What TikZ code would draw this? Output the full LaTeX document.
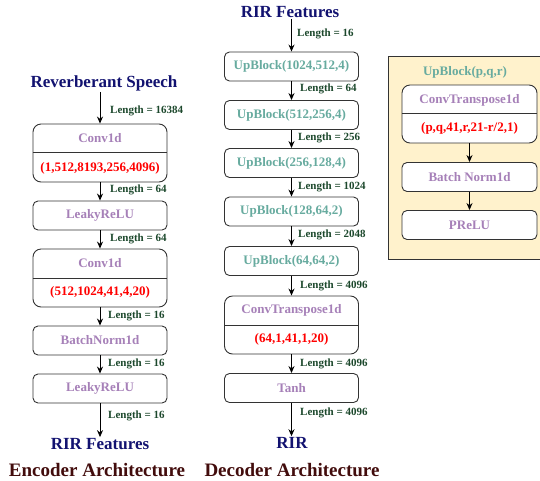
\documentclass[tikz,border=0pt]{standalone}
\usepackage{fontspec}
\setmainfont{Liberation Serif}
\usetikzlibrary{arrows.meta}
\definecolor{navy}{RGB}{18,18,112}
\definecolor{maroon}{RGB}{66,12,12}
\definecolor{lav}{RGB}{166,128,184}
\definecolor{teal}{RGB}{103,171,159}
\definecolor{lgreen}{RGB}{28,72,44}
\definecolor{panel}{RGB}{255,242,204}
\begin{document}
\begin{tikzpicture}[x=1pt,y=-1pt,
  blk/.style={draw=black!80,line width=0.9pt,rounded corners=5pt,minimum width=134pt,minimum height=29pt,inner sep=0pt,fill=white},
  blkd/.style={blk,minimum height=58pt,rounded corners=8pt},
  lbl/.style={font=\bfseries\fontsize{13}{14}\selectfont,text=lav,inner sep=0pt},
  tlb/.style={font=\bfseries\fontsize{13}{14}\selectfont,text=teal,inner sep=0pt},
  par/.style={font=\bfseries\fontsize{13}{14}\selectfont,text=red,inner sep=0pt},
  len/.style={font=\bfseries\fontsize{11}{12}\selectfont,text=lgreen,inner sep=0pt,anchor=west},
  ttl/.style={font=\bfseries\fontsize{17}{18}\selectfont,text=navy,inner sep=1pt},
  arch/.style={font=\bfseries\fontsize{19}{20}\selectfont,text=maroon,inner sep=0pt},
  arr/.style={-{Stealth[length=7pt,width=6pt]},line width=0.9pt}]
\useasboundingbox (0,0) rectangle (540,480);
% ---------- Encoder ----------
\node[ttl] (rs) at (104,83) {Reverberant Speech};
\node[blkd] (e1) at (100,153) {};
\draw[line width=0.9pt,black!80] (e1.west |- 0,152) -- (e1.east |- 0,152);
\node[lbl] (e1a) at (100,138) {Conv1d};
\node[par] (e1b) at (100,168) {(1,512,8193,256,4096)};
\node[blk] (e2) at (100,215.5) {};
\node[lbl] (e2a) at (100,215.5) {LeakyReLU};
\node[blkd] (e3) at (100,278) {};
\draw[line width=0.9pt,black!80] (e3.west |- 0,278) -- (e3.east |- 0,278);
\node[lbl] (e3a) at (100,263) {Conv1d};
\node[par] (e3b) at (100,292.5) {(512,1024,41,4,20)};
\node[blk] (e4) at (100,340.5) {};
\node[lbl] (e4a) at (100,340.5) {BatchNorm1d};
\node[blk] (e5) at (100,388.5) {};
\node[lbl] (e5a) at (100,388.5) {LeakyReLU};
\node[ttl] (rf1) at (100,444) {RIR Features};
\node[arch] (ea) at (97,470) {Encoder Architecture};
\draw[arr] (rs.south -| e1.north) -- (e1.north);
\draw[arr] (e1) -- (e2);
\draw[arr] (e2) -- (e3);
\draw[arr] (e3) -- (e4);
\draw[arr] (e4) -- (e5);
\draw[arr] (e5) -- (rf1.north -| e5.south);
\node[len] (l1) at (110,111) {Length = 16384};
\node[len] (l2) at (110,190) {Length = 64};
\node[len] (l3) at (110,239) {Length = 64};
\node[len] (l4) at (108,316) {Length = 16};
\node[len] (l5) at (108,364) {Length = 16};
\node[len] (l6) at (108,416) {Length = 16};
% ---------- Decoder ----------
\node[ttl] (rf2) at (290,12) {RIR Features};
\node[blk] (d1) at (291.5,66.5) {};
\node[tlb] (d1a) at (291.5,66.5) {UpBlock(1024,512,4)};
\node[blk] (d2) at (291.5,115) {};
\node[tlb] (d2a) at (291.5,115) {UpBlock(512,256,4)};
\node[blk] (d3) at (291.5,163) {};
\node[tlb] (d3a) at (291.5,163) {UpBlock(256,128,4)};
\node[blk] (d4) at (291.5,211.5) {};
\node[tlb] (d4a) at (291.5,211.5) {UpBlock(128,64,2)};
\node[blk] (d5) at (291.5,261) {};
\node[tlb] (d5a) at (291.5,261) {UpBlock(64,64,2)};
\node[blkd] (d6) at (291.5,325) {};
\draw[line width=0.9pt,black!80] (d6.west |- 0,325) -- (d6.east |- 0,325);
\node[lbl] (d6a) at (291.5,310) {ConvTranspose1d};
\node[par] (d6b) at (291.5,339.5) {(64,1,41,1,20)};
\node[blk] (d7) at (291.5,388) {};
\node[lbl] (d7a) at (291.5,388) {Tanh};
\node[ttl] (rir) at (292,443) {RIR};
\node[arch] (da) at (292,470) {Decoder Architecture};
\draw[arr] (rf2.south -| d1.north) -- (d1.north);
\draw[arr] (d1) -- (d2);
\draw[arr] (d2) -- (d3);
\draw[arr] (d3) -- (d4);
\draw[arr] (d4) -- (d5);
\draw[arr] (d5) -- (d6);
\draw[arr] (d6) -- (d7);
\draw[arr] (d7) -- (rir.north -| d7.south);
\node[len] (m1) at (297,34) {Length = 16};
\node[len] (m2) at (300,89) {Length = 64};
\node[len] (m3) at (298,138) {Length = 256};
\node[len] (m4) at (298,187) {Length = 1024};
\node[len] (m5) at (298,235) {Length = 2048};
\node[len] (m6) at (300,286) {Length = 4096};
\node[len] (m7) at (300,364) {Length = 4096};
\node[len] (m8) at (300,413) {Length = 4096};
% ---------- UpBlock panel ----------
\node[draw=black!80,line width=0.8pt,fill=panel,minimum width=157pt,minimum height=203pt,inner sep=0pt] (pan) at (466.5,157.5) {};
\node[tlb] (pt) at (465,72) {UpBlock(p,q,r)};
\node[blkd,minimum width=135pt] (p1) at (469.5,114) {};
\draw[line width=0.9pt,black!80] (p1.west |- 0,113) -- (p1.east |- 0,113);
\node[lbl] (p1a) at (469.5,100) {ConvTranspose1d};
\node[par] (p1b) at (469.5,128) {(p,q,41,r,21-r/2,1)};
\node[blk,minimum width=135pt] (p2) at (469.5,177) {};
\node[lbl] (p2a) at (469.5,177) {Batch Norm1d};
\node[blk,minimum width=135pt] (p3) at (469.5,225) {};
\node[lbl] (p3a) at (469.5,225) {PReLU};
\draw[arr] (p1) -- (p2);
\draw[arr] (p2) -- (p3);
\end{tikzpicture}
\end{document}
